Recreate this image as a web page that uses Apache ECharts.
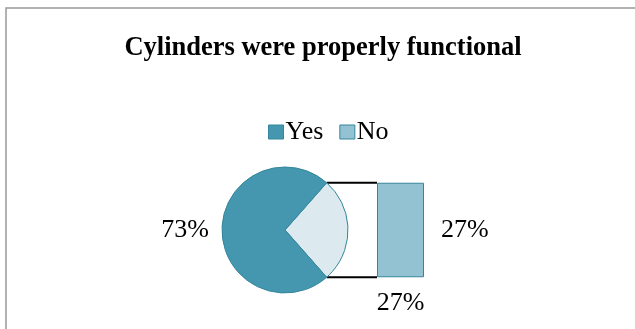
<!DOCTYPE html>
<html>
<head>
<meta charset="utf-8">
<script src="https://cdn.jsdelivr.net/npm/echarts@6/dist/echarts.min.js"></script>
<style>
html,body{margin:0;padding:0;background:#fff;}
#c{width:635px;height:329px;}
</style>
</head>
<body>
<div id="c"></div>
<script>
const titleText = 'Cylinders were properly functional';
const categories = ['Yes', 'No'];
const values = [73, 27];
const barCategories = ['No'];
const barValues = [27];

const COL_YES = '#4497AE';
const COL_NO_PIE = '#DCE9EF';
const COL_NO_BAR = '#93C3D3';
const COL_EDGE = '#35869C';
const FONT = 'Liberation Serif';

const cx = 285, cy = 230, r = 63;
const total = values.reduce((a, b) => a + b, 0);
const otherShare = values[1] / total;            // share of the "other" slice
const half = otherShare * Math.PI;               // half-angle (radians)
const startDeg = otherShare * 180;               // slice centered on 3 o'clock
const barTop = cy - r * Math.sin(half);
const barH = 2 * r * Math.sin(half);
const barLeft = 377, barW = 47;
const px = cx + r * Math.cos(half);

const chart = echarts.init(document.getElementById('c'), null, {renderer: 'canvas'});
chart.setOption({
  animation: false,
  backgroundColor: '#fff',
  title: {
    text: titleText,
    left: 318, top: 30, textAlign: 'center',
    textStyle: {fontFamily: FONT, fontWeight: 'bold', fontSize: 26.5, color: '#000'}
  },
  legend: {
    left: 263, top: 114,
    itemWidth: 15, itemHeight: 14, itemGap: 16,
    icon: 'rect',
    textStyle: {fontFamily: FONT, fontSize: 26, color: '#000', padding: [0, 0, 0, -3]},
    data: [
      {name: categories[0], itemStyle: {color: COL_YES, borderColor: COL_EDGE, borderWidth: 1}},
      {name: categories[1], itemStyle: {color: COL_NO_BAR, borderColor: COL_EDGE, borderWidth: 1}}
    ]
  },
  grid: {left: barLeft, top: barTop, width: barW, height: barH, containLabel: false},
  xAxis: {
    type: 'category', data: barCategories,
    axisLine: {show: false}, axisTick: {show: false},
    axisLabel: {
      margin: 13, fontFamily: FONT, fontSize: 26, color: '#000',
      formatter: () => Math.round(values[1] / total * 100) + '%'
    }
  },
  yAxis: {type: 'value', min: 0, max: values[1], show: false, splitLine: {show: false}},
  series: [
    {
      type: 'pie', name: 'pie',
      center: [cx, cy], radius: r,
      startAngle: startDeg, clockwise: true,
      silent: true,
      data: [
        {name: categories[1], value: values[1], itemStyle: {color: COL_NO_PIE}, label: {show: false}},
        {name: categories[0], value: values[0], itemStyle: {color: COL_YES}}
      ],
      itemStyle: {borderColor: COL_EDGE, borderWidth: 1},
      label: {
        show: true, position: 'outside',
        formatter: p => Math.round(p.percent) + '%',
        fontFamily: FONT, fontSize: 26, color: '#000'
      },
      labelLine: {show: false, length: 8, length2: 0},
      emphasis: {disabled: true}
    },
    {
      type: 'bar', name: categories[1],
      data: barValues, barWidth: '100%',
      itemStyle: {color: COL_NO_BAR, borderColor: COL_EDGE, borderWidth: 1},
      label: {
        show: true, position: 'right', distance: 17,
        formatter: p => Math.round(p.value / total * 100) + '%',
        fontFamily: FONT, fontSize: 26, color: '#000'
      },
      emphasis: {disabled: true}
    }
  ],
  graphic: [
    {type: 'rect', shape: {x: 6, y: 8, width: 700, height: 400}, style: {fill: 'none', stroke: '#999', lineWidth: 1.5}, z: 100},
    {type: 'line', shape: {x1: px, y1: barTop, x2: barLeft, y2: barTop}, style: {stroke: '#000', lineWidth: 2}},
    {type: 'line', shape: {x1: px, y1: barTop + barH, x2: barLeft, y2: barTop + barH}, style: {stroke: '#000', lineWidth: 2}}
  ]
});
</script>
</body>
</html>
